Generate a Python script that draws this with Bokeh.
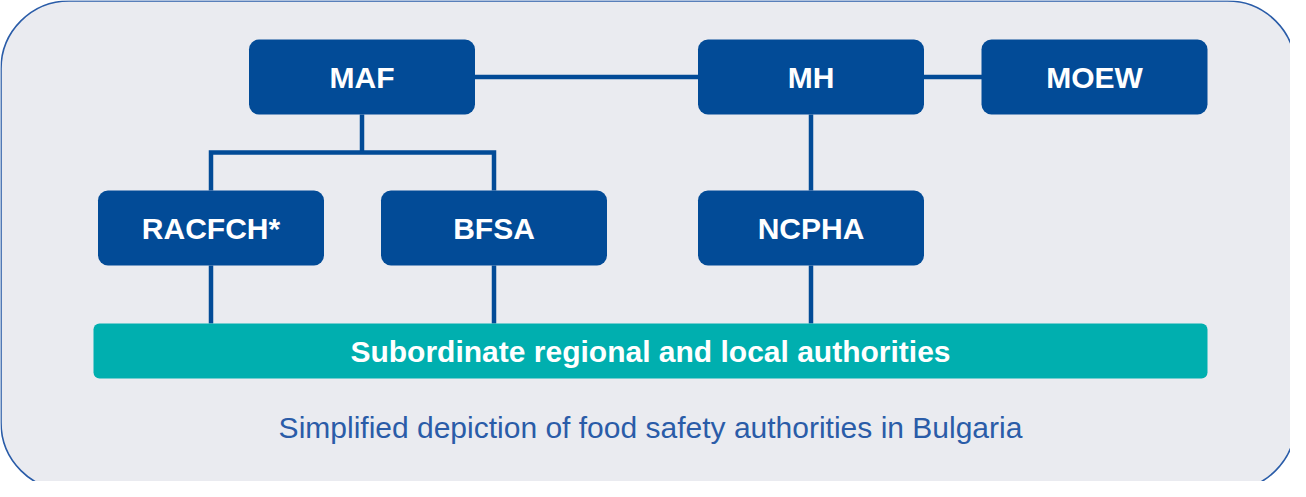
from bokeh.plotting import figure
from bokeh.models import Range1d, ColumnDataSource
from bokeh.embed import file_html
from bokeh.resources import INLINE
from bokeh.core.properties import value

# ---------------- content ----------------
agencies = ["MAF", "MH", "MOEW", "RACFCH*", "BFSA", "NCPHA"]
peer_links = [("MAF", "MH"), ("MH", "MOEW")]
sub_links = [("MAF", "RACFCH*"), ("MAF", "BFSA"), ("MH", "NCPHA")]
local_tier = "Subordinate regional and local authorities"
local_parents = ["RACFCH*", "BFSA", "NCPHA"]
caption = "Simplified depiction of food safety authorities in Bulgaria"

# ---------------- layout (screen pixels of the page) ----------------
W, H = 1290, 481
PAGE_H = 497
col_x = {"RACFCH*": 218.5, "MAF": 369.5, "BFSA": 501.5,
         "MH": 818.5, "NCPHA": 818.5, "MOEW": 1102.0}
row_y = {"MAF": 84.5, "MH": 84.5, "MOEW": 84.5,
         "RACFCH*": 235.5, "BFSA": 235.5, "NCPHA": 235.5}
BOX_W, BOX_H = 226, 75
ELBOW_Y = 160
TIER_L, TIER_R, TIER_T, TIER_B = 101, 1215, 331, 386
CAPTION_Y = 435
FRAME = (8.5, 1303, 8.5, 498)  # left, right, top, bottom

DARK = "#024B97"
TEAL = "#00AFAF"
BG = "#EAEBF0"
EDGE = "#2A5CA8"
FONT = "Liberation Sans"


def Y(iy):
    return PAGE_H - iy


p = figure(width=W, height=H, output_backend="svg", toolbar_location=None,
           x_range=Range1d(8, 8 + W), y_range=Range1d(PAGE_H - 8 - H, PAGE_H - 8),
           min_border=0)
p.axis.visible = False
p.grid.visible = False
p.outline_line_color = None
p.background_fill_color = "white"
p.border_fill_color = "white"

# outer rounded panel
p.quad(left=[FRAME[0]], right=[FRAME[1]], top=[Y(FRAME[2])], bottom=[Y(FRAME[3])],
       fill_color=BG, line_color=EDGE, line_width=1.6, border_radius=68)

# connectors
xs, ys = [], []
for a, b in peer_links:
    xs.append([col_x[a], col_x[b]])
    ys.append([Y(row_y[a]), Y(row_y[b])])
parents = {}
for a, b in sub_links:
    parents.setdefault(a, []).append(b)
for a, kids in parents.items():
    top = Y(row_y[a] + BOX_H / 2)
    mid = Y(ELBOW_Y)
    kx = [col_x[k] for k in kids]
    if len(kids) == 1 and kx[0] == col_x[a]:
        xs.append([col_x[a], col_x[a]])
        ys.append([top, Y(row_y[kids[0]] - BOX_H / 2)])
        continue
    xs.append([col_x[a], col_x[a]])
    ys.append([top, mid])
    lo, hi = min(kx), max(kx)
    left_kid = kids[kx.index(lo)]
    right_kid = kids[kx.index(hi)]
    xs.append([lo, lo, hi, hi])
    ys.append([Y(row_y[left_kid] - BOX_H / 2), mid, mid, Y(row_y[right_kid] - BOX_H / 2)])
for k in local_parents:
    xs.append([col_x[k], col_x[k]])
    ys.append([Y(row_y[k] + BOX_H / 2), Y(TIER_T)])
p.multi_line(xs=xs, ys=ys, line_color=DARK, line_width=4.5, line_join="miter")

# agency boxes
src = ColumnDataSource(dict(
    name=agencies,
    x=[col_x[a] for a in agencies],
    y=[Y(row_y[a]) for a in agencies],
))
p.rect(x="x", y="y", width=BOX_W, height=BOX_H, source=src,
       fill_color=DARK, line_color=None, border_radius=10)
p.text(x="x", y="y", text="name", source=src, text_color="white",
       text_font=value(FONT), text_font_style="bold", text_font_size="30px",
       text_align="center", text_baseline="middle")

# local tier bar
p.quad(left=[TIER_L], right=[TIER_R], top=[Y(TIER_T)], bottom=[Y(TIER_B)],
       fill_color=TEAL, line_color=None, border_radius=6)
p.text(x=[(TIER_L + TIER_R) / 2], y=[Y((TIER_T + TIER_B) / 2)], text=[local_tier],
       text_color="white", text_font=value(FONT), text_font_style="bold",
       text_font_size="30px", text_align="center", text_baseline="middle")

# caption
p.text(x=[658], y=[Y(CAPTION_Y)], text=[caption], text_color=EDGE,
       text_font=value(FONT), text_font_size="30px",
       text_align="center", text_baseline="middle")

open("out.html", "w").write(file_html(p, INLINE))
